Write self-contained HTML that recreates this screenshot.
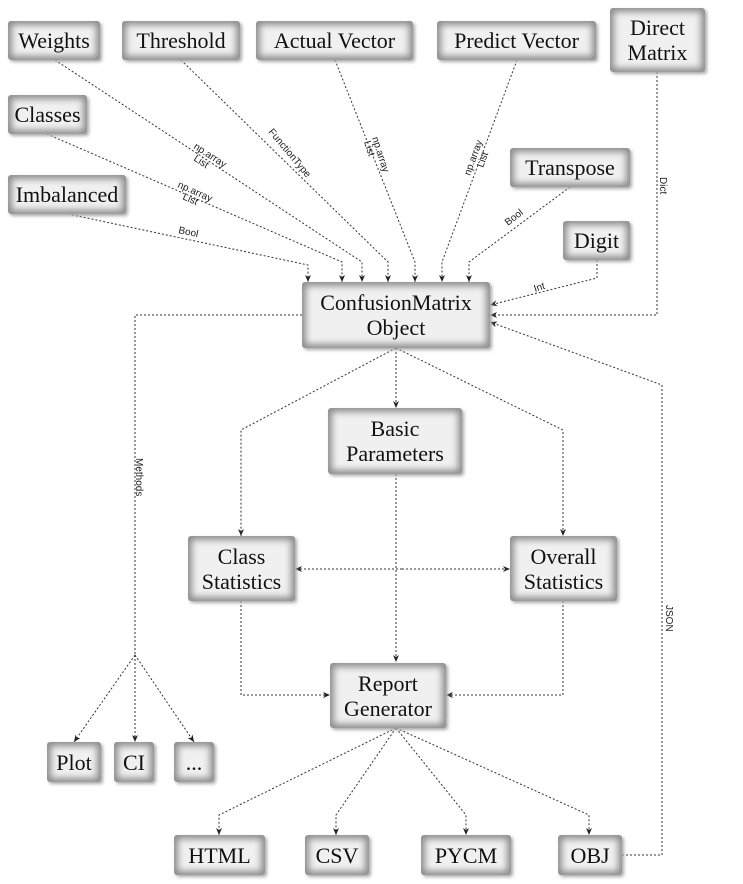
<!DOCTYPE html>
<html><head><style>
body{margin:0;width:743px;height:884px;background:#fff;position:relative;overflow:hidden;font-family:"Liberation Serif",serif}
.b{position:absolute;box-sizing:border-box;background:#f0f0f0;border-radius:3px;box-shadow:inset 0 0 7px 4px #8e8e8e,2px 2px 3px #aaa;display:flex;align-items:center;justify-content:center;text-align:center;font-size:22px;line-height:25px;color:#111}
svg{position:absolute;left:0;top:0}
svg text{font-family:"Liberation Sans",sans-serif;font-size:10px;fill:#222}
</style></head><body>
<svg width="743" height="884">
<defs><marker id="a" markerWidth="8" markerHeight="8" refX="7" refY="4" orient="auto" markerUnits="userSpaceOnUse"><path d="M0,1 L7,4 L0,7 L2,4z" fill="#222"/></marker></defs>
<g fill="none" stroke="#333" stroke-width="1" stroke-dasharray="2,2" marker-end="url(#a)">
<polyline points="68,214 308,265 308,282"/>
<polyline points="47,134 342,262 342,282"/>
<polyline points="55,60 362,262 362,282"/>
<polyline points="181,60 388,262 388,282"/>
<polyline points="335,60 415,262 415,282"/>
<polyline points="517,60 442,262 442,282"/>
<polyline points="570,187 469,262 469,282"/>
<polyline points="597,260 597,278 490,305"/>
<polyline points="657,72 657,315 490,315"/>
<polyline points="622,855 662,855 662,385 490,322"/>
<polyline points="396,348 396,408"/>
<polyline points="396,348 241,430 241,536"/>
<polyline points="396,348 563,430 563,536"/>
<polyline points="396,474 396,662"/>
<polyline points="241,601 241,695 330,695"/>
<polyline points="563,601 563,695 446,695"/>
<polyline points="396,728 219,815 219,835"/>
<polyline points="396,728 336,815 336,835"/>
<polyline points="396,728 466,815 466,835"/>
<polyline points="396,728 589,815 589,835"/>
<polyline points="135,655 74,742"/>
<polyline points="135,655 135,742"/>
<polyline points="135,655 194,742"/>
<polyline points="402,569 295,569"/>
<polyline points="402,569 510,569"/>
</g>
<polyline points="302,315 135,315 135,655" fill="none" stroke="#333" stroke-dasharray="2,2"/>
<text transform="translate(193,148) rotate(33)">np.array</text>
<text transform="translate(193,160) rotate(33)">List</text>
<text transform="translate(177,187) rotate(24)">np.array</text>
<text transform="translate(182,199) rotate(24)">List</text>
<text transform="translate(178,233) rotate(12)">Bool</text>
<text transform="translate(268,132) rotate(50)">FunctionType</text>
<text transform="translate(372,138) rotate(72)">np.array</text>
<text transform="translate(364,142) rotate(72)">List</text>
<text transform="translate(470,176) rotate(-70)">np.array</text>
<text transform="translate(483,168) rotate(-70)">List</text>
<text transform="translate(508,226) rotate(-38)">Bool</text>
<text transform="translate(535,292) rotate(-18)">Int</text>
<text transform="translate(660,177) rotate(90)">Dict</text>
<text transform="translate(136,458) rotate(90)">Methods</text>
<text transform="translate(666,605) rotate(90)">JSON</text>
</svg>
<div class="b" style="left:8px;top:21px;width:92px;height:39px">Weights</div>
<div class="b" style="left:122px;top:21px;width:118px;height:39px">Threshold</div>
<div class="b" style="left:256px;top:21px;width:157px;height:39px">Actual Vector</div>
<div class="b" style="left:437px;top:21px;width:159px;height:39px">Predict Vector</div>
<div class="b" style="left:610px;top:8px;width:95px;height:64px">Direct<br>Matrix</div>
<div class="b" style="left:8px;top:95px;width:79px;height:39px">Classes</div>
<div class="b" style="left:8px;top:175px;width:118px;height:39px">Imbalanced</div>
<div class="b" style="left:510px;top:148px;width:120px;height:39px">Transpose</div>
<div class="b" style="left:563px;top:221px;width:67px;height:39px">Digit</div>
<div class="b" style="left:302px;top:282px;width:188px;height:66px">ConfusionMatrix<br>Object</div>
<div class="b" style="left:328px;top:408px;width:134px;height:66px">Basic<br>Parameters</div>
<div class="b" style="left:188px;top:536px;width:107px;height:65px">Class<br>Statistics</div>
<div class="b" style="left:510px;top:536px;width:107px;height:65px">Overall<br>Statistics</div>
<div class="b" style="left:330px;top:663px;width:116px;height:65px">Report<br>Generator</div>
<div class="b" style="left:47px;top:742px;width:54px;height:40px">Plot</div>
<div class="b" style="left:114px;top:742px;width:40px;height:40px">CI</div>
<div class="b" style="left:174px;top:742px;width:40px;height:40px">...</div>
<div class="b" style="left:174px;top:835px;width:91px;height:40px">HTML</div>
<div class="b" style="left:305px;top:835px;width:64px;height:40px">CSV</div>
<div class="b" style="left:421px;top:835px;width:90px;height:40px">PYCM</div>
<div class="b" style="left:558px;top:835px;width:64px;height:40px">OBJ</div>
</body></html>
